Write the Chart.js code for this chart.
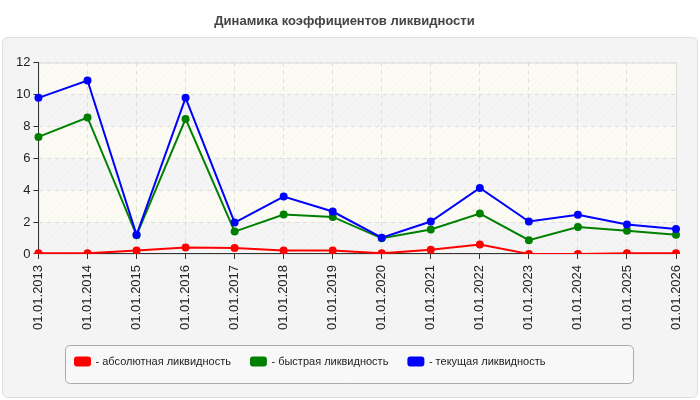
<!DOCTYPE html>
<html>
<head>
<meta charset="utf-8">
<script src="https://cdn.jsdelivr.net/npm/chart.js@4/dist/chart.umd.min.js"></script>
<style>
  html, body { margin: 0; padding: 0; background: #ffffff; }
  #wrap { width: 700px; height: 400px; }
</style>
</head>
<body>
<div id="wrap"><canvas id="chart"></canvas></div>
<script>
var dates = ['01.01.2013', '01.01.2014', '01.01.2015', '01.01.2016', '01.01.2017',
  '01.01.2018', '01.01.2019', '01.01.2020', '01.01.2021', '01.01.2022',
  '01.01.2023', '01.01.2024', '01.01.2025', '01.01.2026'];

var absoluteLiquidity = [0.04, 0.04, 0.21, 0.40, 0.38, 0.21, 0.21, 0.04, 0.27, 0.59, 0.0, 0.0, 0.04, 0.04];
var quickLiquidity = [7.34, 8.56, 1.17, 8.47, 1.40, 2.47, 2.32, 0.98, 1.53, 2.53, 0.86, 1.69, 1.46, 1.21];
var currentLiquidity = [9.79, 10.88, 1.20, 9.79, 1.97, 3.60, 2.66, 1.02, 2.03, 4.14, 2.03, 2.45, 1.84, 1.57];

var yMin = 0;
var yMax = 12;
var yStep = 2;

var FONT = "'Liberation Sans', Arial, sans-serif";

// striped background for the plot area
function makeStripes(base) {
  var c = document.createElement('canvas');
  c.width = 6;
  c.height = 6;
  var g = c.getContext('2d');
  g.fillStyle = base;
  g.fillRect(0, 0, 6, 6);
  g.strokeStyle = 'rgba(0,0,0,0.022)';
  g.lineWidth = 1;
  g.beginPath();
  g.moveTo(-1, 7); g.lineTo(7, -1);
  g.moveTo(-1, 1); g.lineTo(1, -1);
  g.moveTo(5, 7); g.lineTo(7, 5);
  g.stroke();
  return g.createPattern(c, 'repeat');
}

function roundRect(ctx, x, y, w, h, r) {
  ctx.beginPath();
  ctx.moveTo(x + r, y);
  ctx.lineTo(x + w - r, y);
  ctx.quadraticCurveTo(x + w, y, x + w, y + r);
  ctx.lineTo(x + w, y + h - r);
  ctx.quadraticCurveTo(x + w, y + h, x + w - r, y + h);
  ctx.lineTo(x + r, y + h);
  ctx.quadraticCurveTo(x, y + h, x, y + h - r);
  ctx.lineTo(x, y + r);
  ctx.quadraticCurveTo(x, y, x + r, y);
  ctx.closePath();
}

var panelPlugin = {
  id: 'panel',
  afterLayout: function(chart) {
    // move legend items to the left, inside the framed box
    chart.legend.left = 55;
  },
  beforeDraw: function(chart) {
    var ctx = chart.ctx;
    var area = chart.chartArea;
    var y = chart.scales.y;
    ctx.save();
    roundRect(ctx, 2.5, 37.5, 695, 360, 6);
    ctx.fillStyle = '#f4f4f4';
    ctx.fill();
    ctx.strokeStyle = '#dedede';
    ctx.lineWidth = 1;
    ctx.stroke();

    var cream = makeStripes('#fcfcf5');
    var grey = makeStripes('#f5f5f5');
    for (var v = yMin; v < yMax; v += yStep) {
      var top = y.getPixelForValue(v + yStep);
      var bottom = y.getPixelForValue(v);
      ctx.fillStyle = ((v / yStep) % 2 === 0) ? grey : cream;
      ctx.fillRect(area.left, top, area.right - area.left, bottom - top);
    }
    ctx.strokeStyle = '#dcdcdc';
    ctx.strokeRect(area.left + 0.5, area.top + 0.5, area.right - area.left, area.bottom - area.top);

    // legend frame
    roundRect(ctx, 65.5, 345.5, 568, 38, 5);
    ctx.fillStyle = '#f8f8f8';
    ctx.fill();
    ctx.strokeStyle = '#a9a9a9';
    ctx.stroke();
    ctx.restore();
  }
};

var ctx = document.getElementById('chart').getContext('2d');
var chart = new Chart(ctx, {
  type: 'line',
  data: {
    labels: dates,
    datasets: [
      {
        label: '- текущая ликвидность',
        data: currentLiquidity,
        borderColor: '#0000ff',
        backgroundColor: '#0000ff',
        borderWidth: 2,
        pointRadius: 3,
        pointHoverRadius: 3
      },
      {
        label: '- быстрая ликвидность',
        data: quickLiquidity,
        borderColor: '#008000',
        backgroundColor: '#008000',
        borderWidth: 2,
        pointRadius: 3,
        pointHoverRadius: 3
      },
      {
        label: '- абсолютная ликвидность',
        data: absoluteLiquidity,
        borderColor: '#ff0000',
        backgroundColor: '#ff0000',
        borderWidth: 2,
        pointRadius: 3,
        pointHoverRadius: 3
      }
    ]
  },
  options: {
    responsive: true,
    maintainAspectRatio: false,
    animation: false,
    layout: {
      padding: { left: 13, right: 24, top: 0, bottom: 23 }
    },
    plugins: {
      title: {
        display: true,
        text: 'Динамика коэффициентов ликвидности',
        color: '#444444',
        font: { family: FONT, size: 13, weight: 'bold' },
        padding: { top: 14, bottom: 33 }
      },
      legend: {
        position: 'bottom',
        align: 'start',
        reverse: true,
        labels: {
          color: '#222222',
          font: { family: FONT, size: 11 },
          boxWidth: 15,
          boxHeight: 8,
          useBorderRadius: true,
          borderRadius: 2,
          padding: 20
        }
      },
      tooltip: { enabled: false }
    },
    scales: {
      x: {
        offset: false,
        grid: {
          color: '#dddddd',
          tickColor: '#333333',
          tickLength: 5
        },
        border: { color: '#333333', dash: [4, 4] },
        ticks: {
          color: '#222222',
          font: { family: FONT, size: 13 },
          maxRotation: 90,
          minRotation: 90,
          padding: 6
        }
      },
      y: {
        min: yMin,
        max: yMax,
        grid: {
          color: '#dddddd',
          tickColor: '#333333',
          tickLength: 5
        },
        border: { color: '#333333', dash: [4, 4] },
        ticks: {
          stepSize: yStep,
          color: '#222222',
          font: { family: FONT, size: 13 },
          padding: 3
        }
      }
    }
  },
  plugins: [panelPlugin]
});
</script>
</body>
</html>
